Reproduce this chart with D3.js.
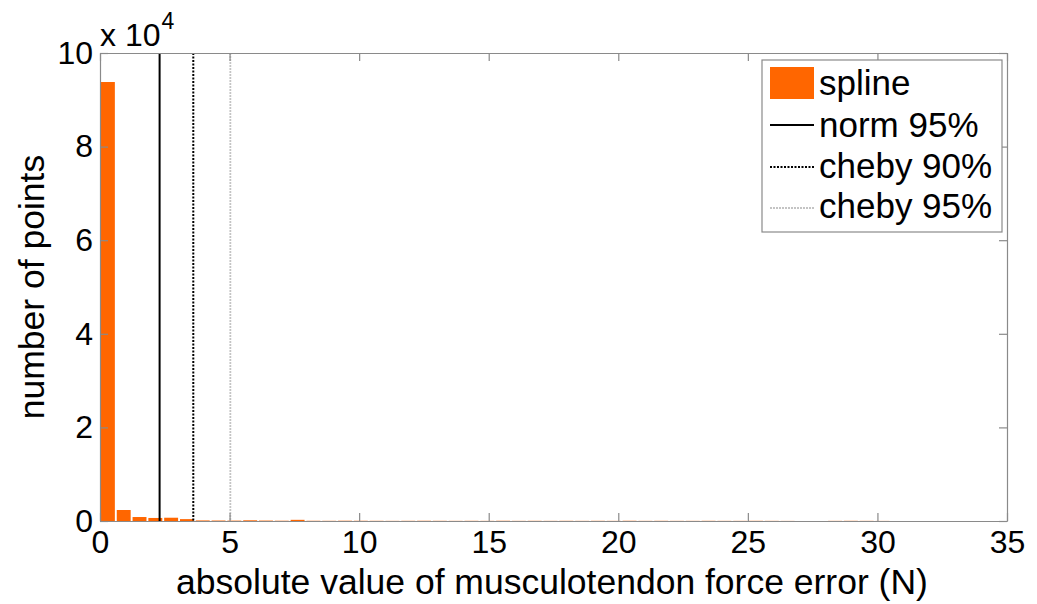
<!DOCTYPE html>
<html>
<head>
<meta charset="utf-8">
<script src="https://cdn.jsdelivr.net/npm/d3@7"></script>
<style>
  body { margin: 0; background: #fff; }
  text { font-family: "Liberation Sans", Arial, sans-serif; fill: #000; }
</style>
</head>
<body>
<svg id="chart" width="1037" height="604"></svg>
<script>
// histogram of |force error|, 50 bins of width 0.61 N
const binWidth = 0.61
const binCounts = [
  93800, 2350, 850, 650, 700, 400, 120, 100, 80, 150,
  90, 60, 250, 50, 40, 60, 50, 40, 30, 40,
  50, 40, 30, 40, 30, 50, 30, 40, 30, 40,
  30, 40, 30, 50, 30, 40, 30, 30, 40, 30,
  30, 40, 30, 20, 0, 0, 30, 40, 30, 20
]
const xTicks = [0, 5, 10, 15, 20, 25, 30, 35]
const yTicks = [0, 2, 4, 6, 8, 10]   // x 10^4

const thresholds = [
  { name: 'norm 95%', value: 2.3, color: '#000', dash: null, width: 2 },
  { name: 'cheby 90%', value: 3.6, color: '#000', dash: '2,1.5', width: 2 },
  { name: 'cheby 95%', value: 5.03, color: '#c4c4c4', dash: '2,1', width: 1.8 }
]

const bins = binCounts.map((c, i) => ({ x0: i * binWidth, x1: (i + 1) * binWidth, count: c }))

const margin = { left: 100, top: 53, right: 1007, bottom: 521 }
const svg = d3.select('#chart')

const x = d3.scaleLinear().domain([0, 35]).range([margin.left, margin.right])
const y = d3.scaleLinear().domain([0, 100000]).range([margin.bottom, margin.top])

const axisColor = '#8a8a8a'
const tickFont = 32
const labelFont = 35.5
const legendFont = 35

// bars
const barFrac = 0.88
svg.append('g').attr('class', 'bars')
  .selectAll('rect')
  .data(bins)
  .join('rect')
    .attr('x', d => x(d.x0 + binWidth * (1 - barFrac) / 2))
    .attr('width', d => x(d.x0 + binWidth * barFrac) - x(d.x0))
    .attr('y', d => y(d.count))
    .attr('height', d => y(0) - y(d.count))
    .attr('fill', '#ff6600')

// threshold lines
svg.append('g').attr('class', 'thresholds')
  .selectAll('line')
  .data(thresholds)
  .join('line')
    .attr('x1', d => x(d.value)).attr('x2', d => x(d.value))
    .attr('y1', margin.top).attr('y2', margin.bottom)
    .attr('stroke', d => d.color)
    .attr('stroke-width', d => d.width)
    .attr('stroke-dasharray', d => d.dash)

// axes, MATLAB style box with inward ticks
const tickLen = 8
const bottomAxis = d3.axisBottom(x).tickValues(xTicks).tickSizeInner(-tickLen).tickSizeOuter(0).tickPadding(9)
const topAxis = d3.axisTop(x).tickValues(xTicks).tickSizeInner(-tickLen).tickSizeOuter(0).tickFormat('')
const leftAxis = d3.axisLeft(y).tickValues(yTicks.map(v => v * 1e4)).tickFormat(d => d / 1e4)
  .tickSizeInner(-tickLen).tickSizeOuter(0).tickPadding(7)
const rightAxis = d3.axisRight(y).tickValues(yTicks.map(v => v * 1e4)).tickSizeInner(-tickLen).tickSizeOuter(0).tickFormat('')

function styleAxis(g) {
  g.select('.domain').attr('stroke', axisColor).attr('stroke-width', 1.2)
  g.selectAll('.tick line').attr('stroke', axisColor).attr('stroke-width', 1.2)
  g.selectAll('.tick text').attr('font-size', tickFont).attr('fill', '#000')
    .attr('font-family', '"Liberation Sans", Arial, sans-serif')
}

svg.append('g').attr('transform', `translate(0,${margin.bottom})`).call(bottomAxis).call(styleAxis)
svg.append('g').attr('transform', `translate(0,${margin.top})`).call(topAxis).call(styleAxis)
svg.append('g').attr('transform', `translate(${margin.left},0)`).call(leftAxis).call(styleAxis)
svg.append('g').attr('transform', `translate(${margin.right},0)`).call(rightAxis).call(styleAxis)

// exponent label
const expo = svg.append('text')
  .attr('x', 100).attr('y', 46)
  .attr('font-size', tickFont)
expo.append('tspan').text('x 10')
expo.append('tspan').attr('font-size', 23).attr('dy', -17).attr('dx', 1).text('4')

// axis titles
svg.append('text')
  .attr('x', 552)
  .attr('y', 594)
  .attr('text-anchor', 'middle')
  .attr('font-size', labelFont)
  .text('absolute value of musculotendon force error (N)')

svg.append('text')
  .attr('transform', `translate(44,${(margin.top + margin.bottom) / 2}) rotate(-90)`)
  .attr('text-anchor', 'middle')
  .attr('font-size', labelFont)
  .text('number of points')

// legend
const legend = svg.append('g').attr('class', 'legend').attr('transform', 'translate(762,60)')
legend.append('rect')
  .attr('width', 240).attr('height', 172)
  .attr('fill', '#fff').attr('stroke', axisColor).attr('stroke-width', 1.2)

const lineY = [65, 107, 148]
const textY = [35, 77, 118, 158]
legend.append('rect')
  .attr('x', 8).attr('y', 7).attr('width', 44).attr('height', 32)
  .attr('fill', '#ff6600')
legend.append('text').attr('x', 57).attr('y', textY[0]).attr('font-size', legendFont).text('spline')

legend.selectAll('line.item')
  .data(thresholds)
  .join('line')
    .attr('class', 'item')
    .attr('x1', 8).attr('x2', 52)
    .attr('y1', (d, i) => lineY[i]).attr('y2', (d, i) => lineY[i])
    .attr('stroke', d => d.color)
    .attr('stroke-width', d => d.width)
    .attr('stroke-dasharray', d => d.dash)

legend.selectAll('text.item')
  .data(thresholds)
  .join('text')
    .attr('class', 'item')
    .attr('x', 57)
    .attr('y', (d, i) => textY[i + 1])
    .attr('font-size', legendFont)
    .text(d => d.name)
</script>
</body>
</html>
